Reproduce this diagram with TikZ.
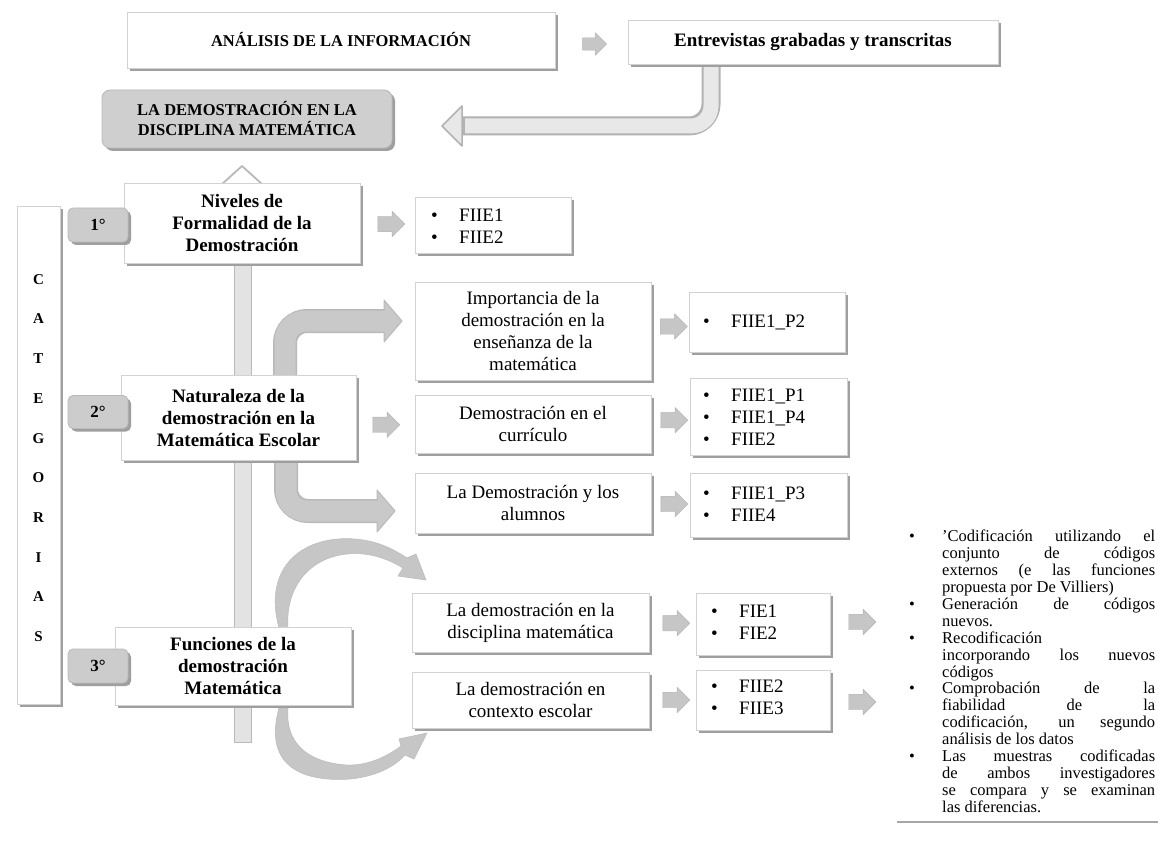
\documentclass[tikz,border=0pt]{standalone}
\usepackage{fontspec}
\setmainfont{Liberation Serif}
\usetikzlibrary{shapes.arrows,shadows,calc}
\newcommand{\lb}{\makebox[28pt][l]{\textbullet}}
\newcommand{\lstbul}{\makebox[37pt][l]{\hspace{4pt}\textbullet}}
\newcommand{\lstind}{\hspace*{37pt}}
\newcommand{\lstj}[1]{\makebox[213pt][s]{#1}}
\newcommand{\shaftrule}{\rule{0pt}{15pt}}
\begin{document}
\begin{tikzpicture}[x=1pt,y=-1pt,
  shd/.style={drop shadow={shadow xshift=3pt,shadow yshift=-3pt,fill=gray!75,opacity=1}},
  wbox/.style={draw=gray!35,line width=0.8pt,fill=white,shd,inner sep=0pt,align=center,
     font=\fontsize{19}{22}\selectfont},
  gbox/.style={draw=gray!55,line width=0.8pt,fill=gray!38,rounded corners=8pt,shd,inner sep=0pt,
     align=center,font=\bfseries\fontsize{16.5}{20}\selectfont},
  badge/.style={draw=gray!55,line width=0.8pt,fill=gray!40,rounded corners=5pt,shd,inner sep=0pt,
     minimum width=60pt,minimum height=34pt,font=\bfseries\fontsize{17}{20}\selectfont},
  sarrow/.style={single arrow,draw=gray!60,fill=gray!45,minimum height=27pt,
     single arrow head extend=5pt,inner sep=0pt,line join=round},
  lst/.style={anchor=west,align=left,inner sep=0pt,font=\fontsize{19}{22}\selectfont},
  arcfill/.style={fill=gray!45,draw=gray!52,line width=0.6pt}
]
\useasboundingbox (0,0) rectangle (1158,850);
\fill[white] (0,0) rectangle (1158,850);

% ---- big bent arrow (Entrevistas -> La demostracion)
\draw[line width=19pt,gray!60,rounded corners=22pt] (711,60) |- (456,126);
\draw[fill=gray!18,draw=gray!60,line width=1.5pt,line join=round] (442,126) -- (462,106) -- (462,146) -- cycle;
\draw[line width=15pt,gray!18,rounded corners=20pt] (711,60) |- (465,126);

% ---- vertical spine with up head
\draw[fill=gray!22,draw=gray!55,line width=1pt] (234,180) rectangle (251,742);
\draw[fill=white,draw=gray!55,line width=1.8pt,line join=round] (242,166) -- (263,185) -- (221,185) -- cycle;

% ---- bent arrows from Naturaleza
\draw[line width=24pt,gray!55,rounded corners=22pt] (285,385) |- (386,321);
\draw[fill=gray!42,draw=gray!55,line width=1pt,line join=round] (402,321) -- (384,300) -- (384,342) -- cycle;
\draw[line width=21pt,gray!42,rounded corners=20.5pt] (285,385) |- (388,321);

\draw[line width=24pt,gray!55,rounded corners=22pt] (286,450) |- (379,511);
\draw[fill=gray!42,draw=gray!55,line width=1pt,line join=round] (395,511) -- (377,490) -- (377,532) -- cycle;
\draw[line width=21pt,gray!42,rounded corners=20.5pt] (286,450) |- (381,511);

% ---- curved arrows around Funciones
\draw[arcfill] (279,628) .. controls (262,565) and (305,535) .. (355,539)
   .. controls (380,541) and (396,551) .. (407,558)
   -- (416,554) -- (426,580) -- (398,576) -- (403,568)
   .. controls (385,557) and (366,552) .. (347,554)
   .. controls (307,558) and (285,590) .. (288,628) -- cycle;
\draw[arcfill] (279,708) .. controls (262,770) and (308,782) .. (350,779)
   .. controls (380,776) and (397,764) .. (405,755)
   -- (414,759) -- (427,733) -- (399,739) -- (401,746)
   .. controls (385,758) and (366,766) .. (346,765)
   .. controls (306,762) and (285,742) .. (288,708) -- cycle;

% ---- top row
\node[wbox,minimum width=428pt,minimum height=56pt] (ana) at (341,40)
  {\bfseries\fontsize{16.5}{20}\selectfont ANÁLISIS DE LA INFORMACIÓN};
\node[wbox,minimum width=370pt,minimum height=44pt] (ent) at (813,42)
  {\bfseries Entrevistas grabadas y transcritas};
\node[sarrow,minimum height=24pt] (a0) at ($(ana.east)!0.5!(ent.west)+(0,3)$) {\rule{0pt}{12pt}};
\node[gbox,minimum width=290pt,minimum height=58pt] (lad) at (247,119)
  {LA DEMOSTRACIÓN EN LA\\DISCIPLINA MATEMÁTICA};

% ---- categories bar
\node[wbox,minimum width=43pt,minimum height=498pt] (cat) at (38.5,455) {};
\node[inner sep=0pt,align=center,font=\bfseries\fontsize{15}{39.7}\selectfont] (catl) at (38.5,458)
  {C\\A\\T\\E\\G\\O\\R\\I\\A\\S};

% ---- category 1
\node[wbox,minimum width=236pt,minimum height=80pt,font=\bfseries\fontsize{19}{22}\selectfont] (niv) at (242,223)
  {Niveles de\\Formalidad de la\\Demostración};
\node[wbox,minimum width=156pt,minimum height=56pt] (f1) at (493,225) {};
\node[lst] (f1t) at (431,226) {\lb FIIE1\\\lb FIIE2};
\node[sarrow] (a1) at ($(niv.east)!0.5!(f1.west)$) {\shaftrule};

% ---- category 2
\node[wbox,minimum width=235pt,minimum height=85pt,font=\bfseries\fontsize{19}{22}\selectfont] (nat) at (238.5,417.5)
  {Naturaleza de la\\demostración en la\\Matemática Escolar};
\node[wbox,minimum width=236pt,minimum height=98pt] (imp) at (533,331)
  {Importancia de la\\demostración en la\\enseñanza de la\\matemática};
\node[wbox,minimum width=236pt,minimum height=58pt] (cur) at (533,424)
  {Demostración en el\\currículo};
\node[wbox,minimum width=236pt,minimum height=60pt] (alu) at (533,503)
  {La Demostración y los\\alumnos};
\node[wbox,minimum width=156pt,minimum height=60pt] (p2) at (767,322) {};
\node[lst] (p2t) at (703,322) {\lb FIIE1\_P2};
\node[wbox,minimum width=157pt,minimum height=77pt] (p14) at (768.5,416.5) {};
\node[lst] (p14t) at (703,417) {\lb FIIE1\_P1\\\lb FIIE1\_P4\\\lb FIIE2};
\node[wbox,minimum width=157pt,minimum height=64pt] (p3) at (768.5,505) {};
\node[lst] (p3t) at (703,504) {\lb FIIE1\_P3\\\lb FIIE4};
\node[sarrow] (a2) at ($(nat.east)!0.5!(cur.west)+(-3,4)$) {\shaftrule};
\node[sarrow] (a3) at ($(imp.east)!0.5!(p2.west)$) {\shaftrule};
\node[sarrow] (a4) at ($(cur.east)!0.5!(p14.west)$) {\shaftrule};
\node[sarrow] (a5) at ($(alu.east)!0.5!(p3.west)$) {\shaftrule};

% ---- category 3
\node[wbox,minimum width=236pt,minimum height=78pt,font=\bfseries\fontsize{19}{22}\selectfont] (fun) at (233,666)
  {Funciones de la\\demostración\\Matemática};
\node[wbox,minimum width=237pt,minimum height=59pt] (dis) at (530.5,622.5)
  {La demostración en la\\disciplina matemática};
\node[wbox,minimum width=237pt,minimum height=56pt] (esc) at (530.5,700)
  {La demostración en\\contexto escolar};
\node[wbox,minimum width=134pt,minimum height=62pt] (fie) at (763,624) {};
\node[lst] (fiet) at (711,622) {\lb FIE1\\\lb FIE2};
\node[wbox,minimum width=134pt,minimum height=60pt] (fii) at (763,700) {};
\node[lst] (fiit) at (711,697) {\lb FIIE2\\\lb FIIE3};
\node[sarrow] (a6) at ($(dis.east)!0.5!(fie.west)$) {\shaftrule};
\node[sarrow] (a7) at ($(esc.east)!0.5!(fii.west)$) {\shaftrule};
\node[sarrow] (a8) at ($(fie.east)+(28,-2)$) {\shaftrule};
\node[sarrow] (a9) at ($(fii.east)+(28,2)$) {\shaftrule};

% ---- badges
\node[badge] (b1) at (98,225) {1°};
\node[badge,minimum height=33pt] (b2) at (98,412) {2°};
\node[badge] (b3) at (98,666) {3°};

% ---- right list
\node[anchor=north west,align=left,inner sep=0pt,font=\fontsize{16.5}{16.9}\selectfont] (lst) at (905,530)
 {\lstbul\lstj{'Codificación utilizando el}\\
  \lstind\lstj{conjunto de códigos}\\
  \lstind\lstj{externos (e las funciones}\\
  \lstind propuesta por De Villiers)\\
  \lstbul\lstj{Generación de códigos}\\
  \lstind nuevos.\\
  \lstbul Recodificación\\
  \lstind\lstj{incorporando los nuevos}\\
  \lstind códigos\\
  \lstbul\lstj{Comprobación de la}\\
  \lstind\lstj{fiabilidad de la}\\
  \lstind\lstj{codificación, un segundo}\\
  \lstind análisis de los datos\\
  \lstbul\lstj{Las muestras codificadas}\\
  \lstind\lstj{de ambos investigadores}\\
  \lstind\lstj{se compara y se examinan}\\
  \lstind las diferencias.};
\coordinate (ln0) at (897,822);
\coordinate (ln1) at (1158,822);
\draw[gray!70,line width=2pt] (ln0) -- (ln1);
\end{tikzpicture}
\end{document}
